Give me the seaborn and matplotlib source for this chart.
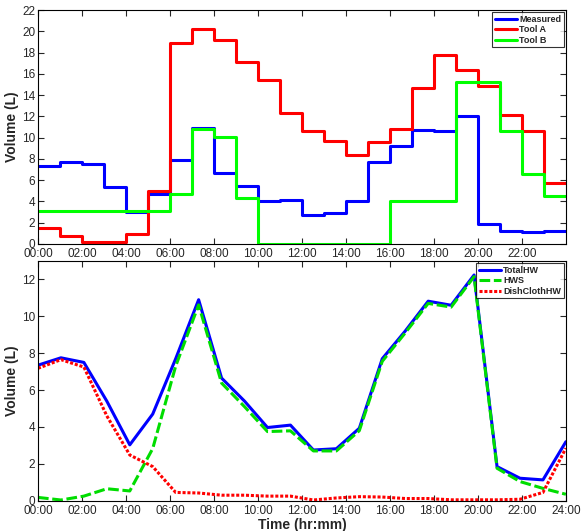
import matplotlib
matplotlib.use("Agg")
import matplotlib.pyplot as plt
import numpy as np
import pandas as pd
import seaborn as sns

# hourly step values (top panel), one value per hour 00..23
measured = [7.3, 7.7, 7.5, 5.35, 3.0, 4.7, 7.9, 10.9, 6.7, 5.45, 4.0, 4.1,
            2.7, 2.9, 4.0, 7.7, 9.2, 10.75, 10.6, 12.0, 1.85, 1.25, 1.1, 1.25]
tool_a = [1.5, 0.75, 0.2, 0.2, 0.95, 5.0, 18.9, 20.25, 19.2, 17.1, 15.4, 12.3,
          10.6, 9.7, 8.4, 9.6, 10.8, 14.7, 17.8, 16.4, 14.9, 12.1, 10.6, 5.75]
tool_b = [3.1, 3.1, 3.1, 3.1, 3.1, 3.1, 4.7, 10.8, 10.1, 4.35, 0.0, 0.0,
          0.0, 0.0, 0.0, 0.0, 4.0, 4.0, 4.0, 15.2, 15.2, 10.6, 6.6, 4.5]

# bottom panel, 24 samples spread over 00:00..24:00
total_hw = [7.35, 7.75, 7.5, 5.4, 3.03, 4.7, 7.7, 10.9, 6.65, 5.4, 3.97, 4.1,
            2.75, 2.82, 3.93, 7.7, 9.2, 10.82, 10.6, 12.24, 1.85, 1.22, 1.13, 3.2]
hws = [0.18, 0.04, 0.25, 0.65, 0.53, 2.83, 7.3, 10.62, 6.38, 5.1, 3.75, 3.79,
       2.7, 2.7, 3.8, 7.56, 9.1, 10.7, 10.5, 12.15, 1.76, 1.04, 0.67, 0.35]
dishcloth_hw = [7.18, 7.65, 7.25, 4.6, 2.48, 1.85, 0.45, 0.42, 0.3, 0.3, 0.25, 0.25,
                0.04, 0.15, 0.22, 0.2, 0.12, 0.12, 0.05, 0.05, 0.05, 0.08, 0.45, 2.85]

top_ticks = list(range(0, 24, 2))
bottom_ticks = list(range(0, 25, 2))

sns.set_style("ticks")
plt.rcParams["font.family"] = ["Liberation Sans", "DejaVu Sans"]
plt.rcParams["xtick.direction"] = "in"
plt.rcParams["ytick.direction"] = "in"

fig = plt.figure(figsize=(5.84, 5.31), dpi=100)
ax1 = fig.add_axes([0.065, 0.5405, 0.904, 0.4405])
ax2 = fig.add_axes([0.065, 0.057, 0.904, 0.4515])

hours = np.arange(25)
top_df = pd.DataFrame({
    "hour": np.tile(hours, 3),
    "value": measured + [measured[-1]] + tool_a + [tool_a[-1]] + tool_b + [tool_b[-1]],
    "series": ["Measured"] * 25 + ["Tool A"] * 25 + ["Tool B"] * 25,
})
top_colors = {"Measured": "#0000ff", "Tool A": "#ff0000", "Tool B": "#00ff00"}
sns.lineplot(data=top_df, x="hour", y="value", hue="series", palette=top_colors,
             drawstyle="steps-post", linewidth=2.2, ax=ax1)

xs = np.linspace(0, 24, len(total_hw))
bot_df = pd.DataFrame({
    "hour": np.tile(xs, 3),
    "value": total_hw + hws + dishcloth_hw,
    "series": ["TotalHW"] * 24 + ["HWS"] * 24 + ["DishClothHW"] * 24,
})
bot_colors = {"TotalHW": "#0000ff", "HWS": "#00dd00", "DishClothHW": "#ff0000"}
sns.lineplot(data=bot_df, x="hour", y="value", hue="series", style="series",
             palette=bot_colors, dashes={"TotalHW": "", "HWS": (3.5, 1.2), "DishClothHW": (1, 0.6)},
             linewidth=2.2, ax=ax2)


def fmt(h):
    return f"{h:02d}:00"


for ax in (ax1, ax2):
    for side in ("top", "right", "left", "bottom"):
        ax.spines[side].set_visible(True)
        ax.spines[side].set_color("black")
        ax.spines[side].set_linewidth(0.8)
    ax.tick_params(axis="both", which="both", top=True, right=True, labelsize=8.5,
                   length=4, width=0.8, pad=2)
    ax.tick_params(axis="x", pad=3)
    ax.set_xlim(0, 24)
    ax.set_ylabel("Volume (L)", fontsize=10, fontweight="bold", labelpad=2)

ax1.set_ylim(0, 22)
ax1.set_yticks(range(0, 23, 2))
ax1.set_xticks(top_ticks)
ax1.set_xticklabels([fmt(h) for h in top_ticks])
ax1.set_xlabel("")

ax2.set_ylim(0, 13)
ax2.set_yticks(range(0, 13, 2))
ax2.set_xticks(bottom_ticks)
ax2.set_xticklabels([fmt(h) for h in bottom_ticks])
ax2.set_xlabel("Time (hr:mm)", fontsize=10, fontweight="bold", labelpad=1)

for ax in (ax1, ax2):
    leg = ax.legend(loc="upper right", fontsize=6.5, frameon=True, fancybox=False,
                    borderpad=0.3, labelspacing=0.15, handlelength=2.4, handletextpad=0.25,
                    borderaxespad=0.25)
    leg.get_frame().set_edgecolor("black")
    leg.get_frame().set_linewidth(0.8)
    for t in leg.get_texts():
        t.set_fontweight("bold")

fig.savefig("out.png", dpi=100)
